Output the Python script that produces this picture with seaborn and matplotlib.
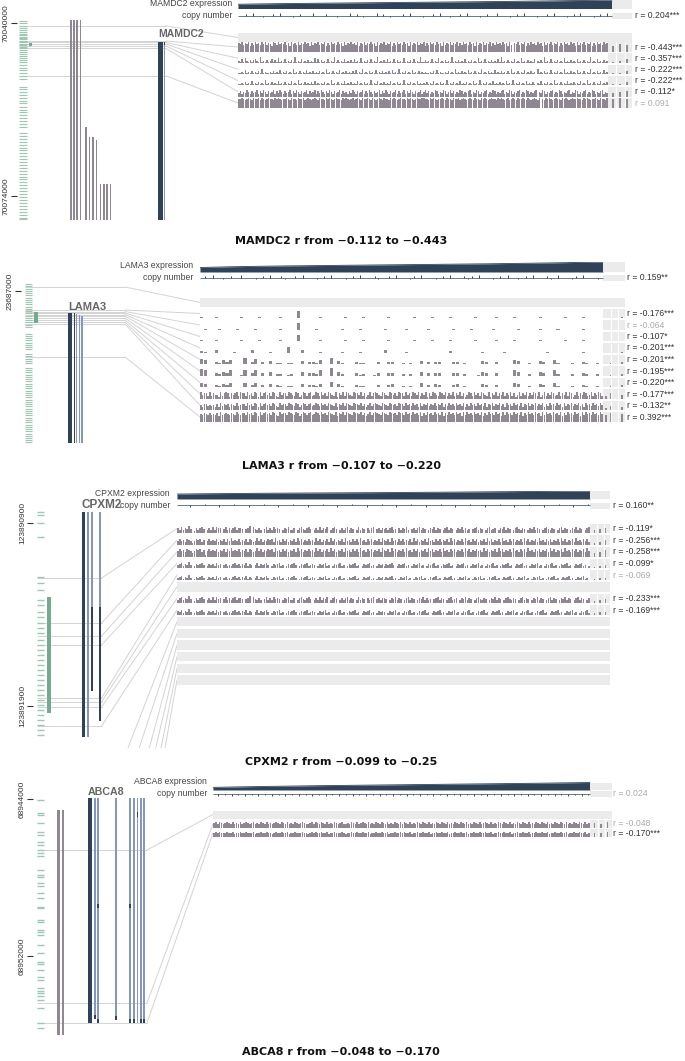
import numpy as np
import matplotlib
matplotlib.use("Agg")
import matplotlib.pyplot as plt
from matplotlib.patches import Rectangle
import seaborn as sns

sns.set_theme(style="white")
plt.rcParams["font.family"] = ["Liberation Sans", "DejaVu Sans"]

# ============================ DATA ============================
titles = ["MAMDC2 r from −0.112 to −0.443", "LAMA3 r from −0.107 to −0.220",
          "CPXM2 r from −0.099 to −0.25", "ABCA8 r from −0.048 to −0.170"]

# ---------- MAMDC2 ----------
mamdc2_start = 70039410
mamdc2_ticks = [70040000, 70074000]
mamdc2_cpg_kb = [0.2, 0.6, 1.1, 1.5, 2.0, 2.4, 2.7, 3.0, 3.3, 3.5, 3.8, 4.1, 4.4, 4.7, 5.0, 5.3,
                 5.6, 5.9, 6.3, 6.6, 7.0, 7.4, 7.9, 8.3, 8.8, 9.4, 9.9, 10.5, 11.1, 11.5, 13.1,
                 13.6, 14.2, 14.8, 15.3, 15.9, 16.4, 17.0, 17.6, 18.1, 18.7, 19.3, 19.9, 20.5,
                 21.0, 22.3, 22.8, 23.4, 23.9, 24.5, 25.1, 25.6, 26.2, 26.8, 27.3, 27.9, 28.4,
                 29.0, 29.6, 30.2, 30.8, 31.3, 31.9, 32.5, 33.0, 33.6, 34.2, 34.8, 35.4, 35.9,
                 36.5, 37.1, 37.7, 38.3, 38.9, 39.2]
mamdc2_island_kb = [4.5, 5.1]
mamdc2_other_start_kb = [0, 0, 0, 0, 21.1, 23.0, 23.0, 23.6, 32.2, 32.2, 32.2, 32.2]
mamdc2_other_end_kb = 39.3
mamdc2_tx_start_kb = [4.3, 4.3, 4.3]
mamdc2_tx_end_kb = [39.3, 39.3, 5.0]
mamdc2_tx_kind = ["dark", "light", "dark"]
mamdc2_probe_kb = [1.18, 4.13, 4.42, 4.72, 5.11, 5.60, 11.0]
mamdc2_region_end_kb = 39.3
mamdc2_expr = [0.50, 0.55, 0.59, 0.62, 0.65, 0.68, 0.71, 0.74, 0.77, 0.80, 0.83, 0.87, 0.91, 0.95, 1.0]
mamdc2_cn = "3343533233435333234333533343323335343233353432333435333233435332334353332343353332343533323343533323435333234353"
mamdc2_cn_r = "0.204***"
mamdc2_meth = [
    None,
    "8796879586978697968759869787968597869687978596879687958697869785968797869587968797859687968795869786978596879687"
    "9586978697859687968795869786978596879687958697869785960879687958697869785968796879586978697859687968795869786978",
    "2141521313421612131241315121412131612141213121514131214121613121412131412151213141216121314121413121512131412161"
    "1312141215121312161213121412131215121412131214161213121412151213121402131612141213121512131214121312161214121312",
    "1121412131213151211213121412131215121312141213121312151213121412131213141215121312141213121314121512131214121312"
    "1211213141211213121512131214121312151213121412131213151213121412131205121312141213121512131214121312151213121412",
    "1121312141213121512131214121312141215121312131412121312151213121412131214121312151214121312141213121512131214121"
    "2131214121312151213121412131214121512131214121312141215121312141213102141213121512131214121312141215121312141213",
    "3524364253462536425346253642534625364253462534625364253642534625342536425346253642534625364253462534625364253462"
    "4635243652436524635243652435624365243562436524356243652435624365243560436524356243652435624365243562436524356243",
    "8898789879889798789887989878898798879889789878987988798987898879898789789879889879878987988798987898879898789889"
    "9887989878898798879889789878987988798987898879898789789879889879878987908798987898879898789889887989878898798879",
]
mamdc2_meth_normal = [None, "0507060", "0102040", "0101030", "0101030", "0304050", "0809080"]
mamdc2_meth_r = [None, "-0.443***", "-0.357***", "-0.222***", "-0.222***", "-0.112*", "0.091"]

# ---------- LAMA3 ----------
lama3_start = 23683000
lama3_ticks = [23687000]
lama3_cpg_kb = [0.5, 1.6, 2.8, 3.9, 5.0, 6.1, 7.3, 8.4, 9.5, 10.6, 11.8, 12.9, 14.0, 15.2, 16.3,
                17.4, 18.5, 19.7, 20.8, 21.9, 25.3, 26.4, 27.5, 28.7, 29.8, 31.0, 32.1, 33.2,
                35.6, 36.7, 37.9, 38.9, 40.0, 42.5, 43.6, 44.7, 45.9, 47.0, 48.1, 49.2, 50.4,
                51.5, 52.6, 53.8, 54.9, 56.0, 57.2, 58.3, 59.4, 60.6, 61.7, 62.8, 64.0, 65.1,
                66.2, 67.4, 68.5, 69.6, 70.8, 71.9, 73.0, 74.2, 75.3, 76.4, 77.6, 78.7, 79.6]
lama3_island_kb = [14.5, 20.0]
lama3_other_start_kb = []
lama3_other_end_kb = 0
lama3_tx_start_kb = [15.0, 15.0, 15.5, 16.0, 16.5]
lama3_tx_end_kb = [80.0, 80.0, 80.0, 80.0, 80.0]
lama3_tx_kind = ["dark", "dark", "light", "light", "light"]
lama3_probe_kb = [2.0, 13.5, 14.25, 15.0, 15.75, 16.5, 17.5, 18.5, 19.5, 20.5, 37.0]
lama3_region_end_kb = 80.0
lama3_expr = [0.45, 0.52, 0.57, 0.61, 0.64, 0.67, 0.70, 0.73, 0.76, 0.79, 0.82, 0.86, 0.90, 0.95, 1.0]
lama3_cn = "3435332343353332343533423343533323435333234353334233435333243533323435333424353332343533234353334235333243533323"
lama3_cn_r = "0.159**"
lama3_meth = [
    None,
    "1000100000010000100000100007000001000000100001000000100000010000100001000000100000100001000000100000010000100000",
    "0100010000100001000000100006000010000001000010000001000001000001000000100001000001000000100000100001000000100000",
    "1000100000010000100000100006000001000000100001000000100000010000100001000000100000100001000000100000010000100000",
    "2100300001000030000100005000300001000001000010000003000001000000000002000000001000001000000000001000000000100000",
    "5400214240006025020301101100302214006031000211000200220010100302022000220100003200200004300100320041000100210010",
    "6500324350015035030402201200403325007042000312001300330020200403033000330200014300300005400200430052000200320020",
    "4300213240004024020302101100302213005031000211000200230010100402032000230100003200200004300100320041000100210010",
    "6455363544263565254563655364536526356453653264553654365246535634653645365436254636543655463524635654365436545365"
    "5364536546354625365436546354635463524653645365436254635463546352463546354653624635465346354636524635465346354653",
    "5366454536374656365474566475647637467564764375664765476357646745764756476547365747654766574635746765476547656476"
    "6475647563746574657465736475647564736475647564736574657463756475647365746574657364756475637465746574637564756475",
    "7687686768596787687697688697869859689786986597886987698579868967986978698769587969876988796857968987698769878698"
    "8697869786958697869786958697869785969786978695869786978596978697869586978697859697869786958697869785969786978697",
]
lama3_meth_normal = [None, "0001", "0000", "0000", "0001", "0102", "0102", "0102", "3504", "2403", "6807"]
lama3_meth_r = [None, "-0.176***", "-0.064", "-0.107*", "-0.201***", "-0.201***", "-0.195***",
                "-0.220***", "-0.177***", "-0.132**", "0.392***"]

# ---------- CPXM2 ----------
cpxm2_start = 123890801
cpxm2_ticks = [123890900, 123891900]
cpxm2_cpg_kb = [0.038, 0.055, 0.098, 0.175, 0.393, 0.426, 0.464, 0.519, 0.546, 0.585, 0.612,
                0.645, 0.672, 0.699, 0.738, 0.765, 0.792, 0.820, 0.847, 0.874, 0.902, 0.929,
                0.956, 0.984, 1.011, 1.038, 1.065, 1.093, 1.120, 1.147, 1.175, 1.202, 1.229, 1.256]
cpxm2_island_kb = [0.503, 1.137]
cpxm2_other_start_kb = []
cpxm2_other_end_kb = 0
cpxm2_tx_start_kb = [0.038, 0.038, 0.038, 0.557, 0.038, 0.557]
cpxm2_tx_end_kb = [1.268, 1.268, 0.557, 1.016, 0.557, 1.180]
cpxm2_tx_kind = ["dark", "light", "light", "dark", "light", "dark"]
cpxm2_probe_kb = [0.399, 0.645, 0.716, 0.765, 1.055, 1.076, 1.104, 1.208, 1.70, 1.95, 2.30, 2.60, 2.95, 3.30]
cpxm2_region_end_kb = 1.268
cpxm2_expr = [0.62, 0.66, 0.69, 0.72, 0.74, 0.76, 0.78, 0.80, 0.83, 0.85, 0.88, 0.91, 0.94, 0.97, 1.0]
cpxm2_cn = "3332333433323334333233343332333433323334333233343332333433323334333233343332333433323334333233343332333433323334"
cpxm2_cn_r = "0.160**"
cpxm2_meth = [
    "5363547402535640353636550463535635540457064353046353645403546335035643564035363546035640353563540363540535604535"
    "4535634053546304535635403546354035635403546353404563540356345035463540356435403546354035643540356354035463540356",
    "4645365424656350464546354636474546354636534746354656374536463546374635464537463546374635463745364637453646354637"
    "5463745364635463746354637453646354637463546374536463546374635463745364635463746354637453646354637463546374536463",
    "5756476535767461575657465747585657465747645857465767485647574657485746575648574657485746574856475748564757465748"
    "6574857465748564757465748574657485647574657485746575648574657485746574856475748564757465748574657485647574657485",
    "3452436302434530243425340342324534243524303524345302434523024345302434523430243452302434523024345230243452302434"
    "2434530243452302434523024345230243452302434523024345230243452302434523024345230243452302434523024345230243452302",
    "2341325201323420132314230231213423132413202413234201323412013234201323412320132341201323412013234120132341201323"
    "1323412013234120132341201323412013234120132341201323412013234120132341201323412013234120132341201323412013234120",
    None,
    "3563547402535640353636450463535635540457064353046353645403546335035643564035363546035640353563540363540535604535"
    "5403546354035635403546353404563540356345035463540356435403546354035643540356354035463540356354035463540356354035",
    "4352436302434530243425340342324534243524303524345302434523024345302434523430243452302434523024345230243452302434"
    "3024345230243452302434523024345230243452302434523024345230243452302434523024345230243452302434523024345230243452",
    None, None, None, None, None, None,
]
cpxm2_meth_normal = ["0304050", "0203050", "0304060", "0102030", "0102020", None, "0203040", "0203030",
                     None, None, None, None, None, None]
cpxm2_meth_r = ["-0.119*", "-0.256***", "-0.258***", "-0.099*", "-0.069", None, "-0.233***", "-0.169***",
                None, None, None, None, None, None]

# ---------- ABCA8 ----------
abca8_start = 68943898
abca8_ticks = [68944000, 68952000]
abca8_cpg_kb = [0.153, 0.815, 0.917, 1.325, 1.784, 1.936, 2.293, 2.446, 2.701, 2.854, 3.007, 3.720,
                3.975, 4.077, 4.383, 4.535, 4.892, 5.147, 5.606, 5.657, 6.268, 6.370, 6.778, 6.880,
                7.032, 7.542, 7.950, 8.408, 8.510, 8.816, 9.173, 9.326, 9.733, 9.886, 9.988, 10.141,
                10.345, 10.753, 11.517, 11.772]
abca8_island_kb = None
abca8_other_start_kb = [0.662, 0.662]
abca8_other_end_kb = 12.128
abca8_tx_start_kb = [0.051, 0.051, 0.051, 0.051, 0.051, 0.051, 0.051, 0.051, 0.051,
                     5.45, 5.45, 0.76, 11.10, 11.30, 11.15, 11.30, 11.30, 11.30, 11.30]
abca8_tx_end_kb = [11.517, 11.313, 11.517, 11.364, 11.517, 11.517, 11.517, 11.517, 11.517,
                   5.65, 5.65, 1.00, 11.313, 11.517, 11.364, 11.517, 11.517, 11.517, 11.517]
abca8_tx_kind = ["dark"] + ["light"] * 8 + ["dark"] * 10
abca8_probe_kb = [2.701, 10.498, 11.517]
abca8_region_end_kb = 12.128
abca8_expr = [0.35, 0.42, 0.48, 0.53, 0.58, 0.62, 0.66, 0.70, 0.74, 0.78, 0.82, 0.86, 0.90, 0.95, 1.0]
abca8_cn = "3132313231323132313231323132313231323132313231323132313231323132313231323132313231323132313231323132313231323132"
abca8_cn_r = "0.024"
abca8_meth = [
    None,
    "6757656765746575676567465765756467657657465765676546757657657465765675465765756765746576576574657657"
    "5765746576576574657657657465765765746576575676574657657657465765765746576576574657657657465765765746",
    "5646545654635464565456354654645356546546354654565435646546546354654564354654645654635465465463546546"
    "4654635465465463546546546354654654635465464565463546546546354654654635465465463546546546354654654635",
]
abca8_meth_normal = [None, "0605070", "0504060"]
abca8_meth_r = [None, "-0.048", "-0.170***"]

# ============================ STYLE / LAYOUT ============================
W, H = 685, 1061
NAVY = "#2f4258"
BLUE = "#8497c3"
MAUVE = "#8f8792"
GREEN = "#9cc8b3"
GREEN_D = "#72ab90"
GREYBOX = "#ebebeb"
LINE = "#d3d3d3"

L1 = dict(bp_per_px=196.5, gx0=17, gy0=20, gy1=221, cpg_x=(19, 27), cpg_lw=0.8, island_x=(28.5, 31.5),
          other_x=[71, 74, 77, 80.5, 86, 89.5, 93, 96.5, 100.5, 104, 107, 110.5], other_w=[1.8] * 12,
          tx_x=[(160.5, 4.5), (164.5, 1.6), (164.5, 1.2)], gene_right=166,
          x0=238, xme=612, xm=608, x1=632, expr_base=8.5, expr_h=8.5, cn=15.5,
          rows=[37.5, 47, 58.2, 69.4, 80.6, 91.8, 103], row_h=9.5,
          label_x=232, expr_label_y=4, cn_label_y=15.5, gene_label=(158, 37), gene_fs=7.5,
          rx=635, title_y=241)
L2 = dict(bp_per_px=500, gx0=21, gy0=283, gy1=445, cpg_x=(25, 32), cpg_lw=0.8, island_x=(34, 38),
          other_x=[], other_w=[],
          tx_x=[(70, 3.5), (74.3, 1.6), (76.7, 1.4), (79.4, 1.4), (82, 1.4)], gene_right=125,
          x0=200, xme=603, xm=603, x1=625, expr_base=272, expr_h=10, cn=277.5,
          rows=[302.5, 313.5, 325, 336.5, 348, 359.5, 371, 382.5, 394, 405.5, 417], row_h=9.5,
          label_x=193, expr_label_y=266, cn_label_y=277.5, gene_label=(68, 310), gene_fs=8,
          rx=627, title_y=466)
L3 = dict(bp_per_px=5.464, gx0=33, gy0=505, gy1=748, cpg_x=(37, 44), cpg_lw=1.0, island_x=(47, 51),
          other_x=[], other_w=[],
          tx_x=[(83.5, 3), (88, 1.8), (92, 1.8), (92, 1.8), (100, 1.8), (100, 1.8)], gene_right=101.5,
          x0=177, xme=590, xm=590, x1=610, expr_base=499, expr_h=8, cn=505.5,
          rows=[528.5, 540.2, 551.8, 563.5, 575.1, 586.8, 598.4, 610.1, 621.7, 633.4, 645, 656.7, 668.3, 680],
          row_h=9.5, label_x=170, expr_label_y=493, cn_label_y=505.5, gene_label=(82, 508), gene_fs=8.5,
          rx=613, title_y=762)
L4 = dict(bp_per_px=50.96, gx0=33, gy0=797, gy1=1036, cpg_x=(37, 44), cpg_lw=1.0, island_x=None,
          other_x=[58.5, 62.7], other_w=[3, 1.6],
          tx_x=[(90, 4), (95.2, 1.5), (98, 2), (116, 2), (130, 2), (134, 2), (137.4, 1.4), (141, 2), (144, 2),
                (98, 2), (130, 2), (137.4, 1.4), (95.2, 1.5), (98, 2), (116, 2), (130, 2), (134, 2), (141, 2), (144, 2)],
          gene_right=147,
          x0=213, xme=590, xm=590, x1=612, expr_base=790, expr_h=7.5, cn=793.5,
          rows=[814.5, 824, 833], row_h=8,
          label_x=207, expr_label_y=781, cn_label_y=793.5, gene_label=(88, 795), gene_fs=7.7,
          rx=613, title_y=1052)

fig = plt.figure(figsize=(W / 100, H / 100), dpi=100)


def px_axes(x0, y0, x1, y1, z=1):
    ax = fig.add_axes([x0 / W, 1 - y1 / H, (x1 - x0) / W, (y1 - y0) / H], zorder=z)
    ax.patch.set_alpha(0)
    return ax


def ftext(x, y, s, **kw):
    return fig.text(x / W, 1 - y / H, s, **kw)


def r_color(r):
    return "#333333" if "*" in r else "#aaaaaa"


def panel(gene, title, start, ticks, cpg_kb, island_kb, other_start, other_end, tx_start, tx_end,
          tx_kind, probe_kb, region_end_kb, expr, cn, cn_r, meth, meth_normal, meth_r, L):
    bp = L["bp_per_px"]
    # ---------------- genome axes ----------------
    ax_g = px_axes(L["gx0"], L["gy0"], L["x0"], L["gy1"])
    ax_g.set_xlim(L["gx0"], L["x0"])
    ax_g.set_ylim(start + (L["gy1"] - L["gy0"]) * bp, start)
    sns.despine(ax=ax_g, left=True, bottom=True)
    ax_g.set_xticks([])
    ax_g.set_yticks(ticks)
    ax_g.set_yticklabels([str(t) for t in ticks], rotation=90, va="center", fontsize=6, color="#333333")
    ax_g.tick_params(axis="y", left=True, length=4, width=0.8, color="#333333", pad=1)
    ax_g.grid(False)

    ax_g.hlines([start + k * 1000 for k in cpg_kb], L["cpg_x"][0], L["cpg_x"][1],
                color=GREEN, lw=L["cpg_lw"], zorder=1)
    if island_kb:
        ix = L["island_x"]
        ax_g.bar((ix[0] + ix[1]) / 2, (island_kb[1] - island_kb[0]) * 1000,
                 bottom=start + island_kb[0] * 1000, width=ix[1] - ix[0], color=GREEN_D, lw=0, zorder=2)
    for x, w, s in zip(L["other_x"], L["other_w"], other_start):
        ax_g.bar(x, (other_end - s) * 1000, bottom=start + s * 1000, width=w, color=MAUVE, lw=0, zorder=2)
    for (x, w), s, e, k in zip(L["tx_x"], tx_start, tx_end, tx_kind):
        ax_g.bar(x, (e - s) * 1000, bottom=start + s * 1000, width=w,
                 color=NAVY if k == "dark" else BLUE, lw=0, zorder=2.5)

    # ---------------- right axes ----------------
    rows = L["rows"]
    rh = L["row_h"]
    ytop = L["expr_base"] - L["expr_h"] - 0.5
    ybot = rows[-1] + rh / 2 + 0.5
    ax_r = px_axes(L["x0"], ytop, L["x1"], ybot)
    span = L["x1"] - L["x0"]
    fe = (L["xme"] - L["x0"]) / span
    fm = (L["xm"] - L["x0"]) / span

    ev = np.array(expr)
    xe = np.linspace(0, fe, len(ev))
    base, eh = L["expr_base"], L["expr_h"]
    ax_r.fill_between(xe, base, base - ev * eh, color=NAVY, lw=0)
    sns.lineplot(x=xe, y=base - ev * eh, ax=ax_r, color=NAVY, lw=0.6)
    ax_r.add_patch(Rectangle((fe, base - eh), 1 - fe, eh, color=GREYBOX, lw=0))

    cv = np.array([int(c) - 3 for c in cn])
    xc = (np.arange(len(cv)) + 0.5) / len(cv) * fe
    yc = L["cn"]
    ax_r.add_patch(Rectangle((fe, yc - 3), 1 - fe, 6, color=GREYBOX, lw=0))
    ax_r.hlines(yc, 0, fe, color=NAVY, lw=0.5)
    nz = cv != 0
    ax_r.vlines(xc[nz], yc, yc - cv[nz] * 1.4, color=NAVY, lw=0.7)
    ftext(L["rx"], yc, "r = " + cn_r, fontsize=6.2, va="center", ha="left", color=r_color(cn_r))

    for j, c in enumerate(rows):
        s = meth[j]
        if s is None:
            ax_r.add_patch(Rectangle((0, c - rh / 2), 1, rh, color=GREYBOX, lw=0))
            continue
        ax_r.add_patch(Rectangle((fm, c - rh / 2), 1 - fm, rh, color=GREYBOX, lw=0))
        ax_r.vlines([fm + 0.35 * (1 - fm), fm + 0.7 * (1 - fm)], c - rh / 2, c + rh / 2, color="white", lw=0.8)
        v = np.array([int(ch) for ch in s]) / 9 * rh
        n = len(v)
        x = (np.arange(n) + 0.5) / n * fm
        ax_r.bar(x, -v, bottom=c + rh / 2, width=0.85 * fm / n, color=MAUVE, lw=0)
        g = meth_normal[j]
        vg = np.array([int(ch) for ch in g]) / 9 * rh
        ng = len(vg)
        xg = fm + (np.arange(ng) + 0.5) / ng * (1 - fm)
        ax_r.bar(xg, -vg, bottom=c + rh / 2, width=0.45 * (1 - fm) / ng, color=MAUVE, lw=0)
        r = meth_r[j]
        ftext(L["rx"], c, "r = " + r, fontsize=6.2, va="center", ha="left", color=r_color(r))

    ax_r.set_xlim(0, 1)
    ax_r.set_ylim(ybot, ytop)
    ax_r.set_axis_off()

    # ---------------- probe connector lines (in genome-axes data coords) ----------------
    for j, p in enumerate(probe_kb):
        gpos = start + p * 1000
        g_row = start + (rows[j] - L["gy0"]) * bp
        if p <= region_end_kb:
            ax_g.hlines(gpos, L["cpg_x"][0], L["gene_right"], color=LINE, lw=0.7, zorder=0.5)
        ax_g.plot([L["gene_right"], L["x0"]], [gpos, g_row], color=LINE, lw=0.7, zorder=0.5)

    # ---------------- texts ----------------
    ftext(L["label_x"], L["expr_label_y"], f"{gene} expression", ha="right", va="center",
          fontsize=6.2, color="#444444")
    ftext(L["label_x"], L["cn_label_y"], "copy number", ha="right", va="center",
          fontsize=6.2, color="#444444")
    ftext(L["gene_label"][0], L["gene_label"][1], gene, ha="left", va="baseline",
          fontsize=L["gene_fs"], fontweight="bold", color="#666666")
    ftext(341, L["title_y"], title, ha="center", va="center", fontsize=8, fontweight="bold",
          family="DejaVu Sans", color="#111111")


panel("MAMDC2", titles[0], mamdc2_start, mamdc2_ticks, mamdc2_cpg_kb, mamdc2_island_kb,
      mamdc2_other_start_kb, mamdc2_other_end_kb, mamdc2_tx_start_kb, mamdc2_tx_end_kb, mamdc2_tx_kind,
      mamdc2_probe_kb, mamdc2_region_end_kb, mamdc2_expr, mamdc2_cn, mamdc2_cn_r,
      mamdc2_meth, mamdc2_meth_normal, mamdc2_meth_r, L1)
panel("LAMA3", titles[1], lama3_start, lama3_ticks, lama3_cpg_kb, lama3_island_kb,
      lama3_other_start_kb, lama3_other_end_kb, lama3_tx_start_kb, lama3_tx_end_kb, lama3_tx_kind,
      lama3_probe_kb, lama3_region_end_kb, lama3_expr, lama3_cn, lama3_cn_r,
      lama3_meth, lama3_meth_normal, lama3_meth_r, L2)
panel("CPXM2", titles[2], cpxm2_start, cpxm2_ticks, cpxm2_cpg_kb, cpxm2_island_kb,
      cpxm2_other_start_kb, cpxm2_other_end_kb, cpxm2_tx_start_kb, cpxm2_tx_end_kb, cpxm2_tx_kind,
      cpxm2_probe_kb, cpxm2_region_end_kb, cpxm2_expr, cpxm2_cn, cpxm2_cn_r,
      cpxm2_meth, cpxm2_meth_normal, cpxm2_meth_r, L3)
panel("ABCA8", titles[3], abca8_start, abca8_ticks, abca8_cpg_kb, abca8_island_kb,
      abca8_other_start_kb, abca8_other_end_kb, abca8_tx_start_kb, abca8_tx_end_kb, abca8_tx_kind,
      abca8_probe_kb, abca8_region_end_kb, abca8_expr, abca8_cn, abca8_cn_r,
      abca8_meth, abca8_meth_normal, abca8_meth_r, L4)

fig.savefig("out.png", dpi=100, facecolor="white")
